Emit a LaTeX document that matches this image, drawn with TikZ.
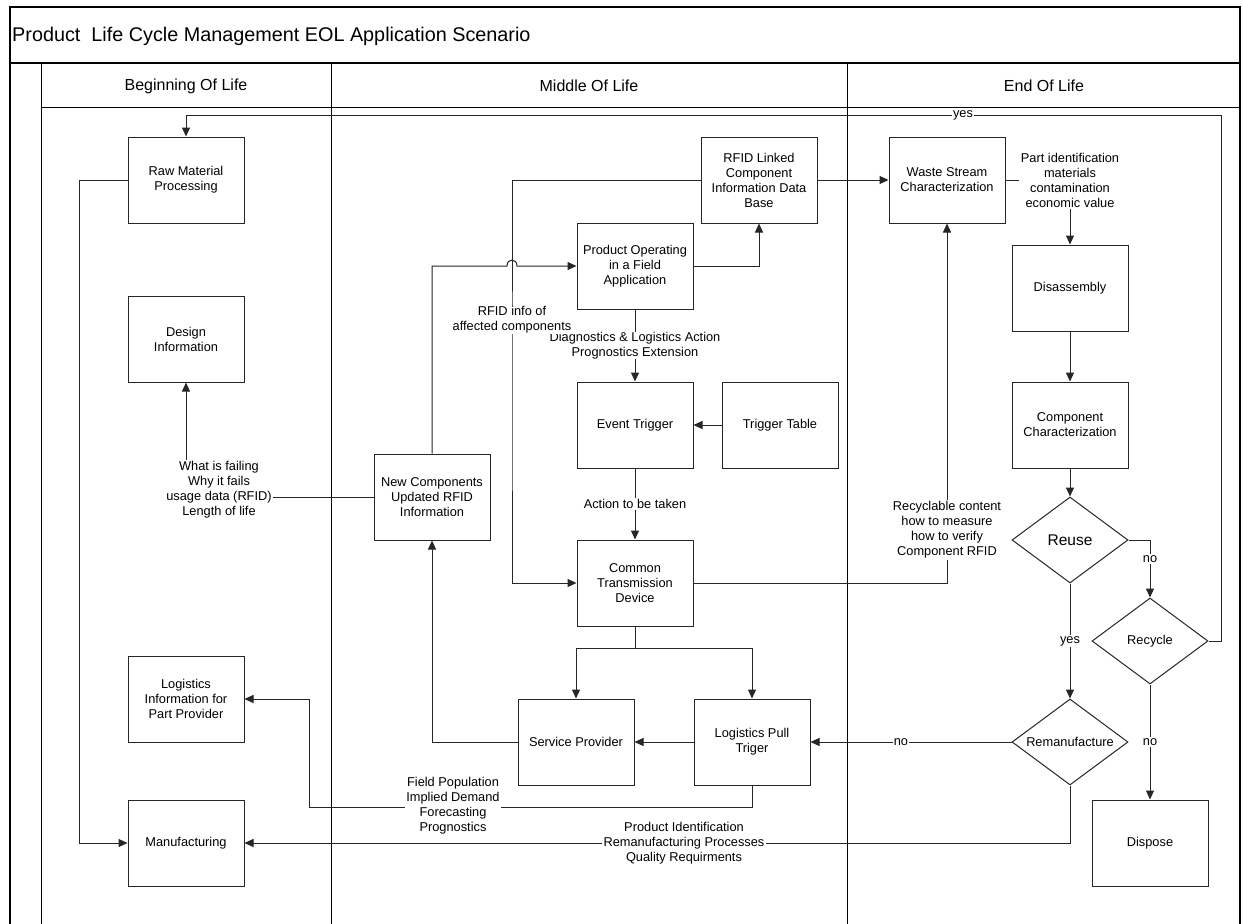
\documentclass[tikz,border=0pt]{standalone}
\usepackage{fontspec}
\setmainfont{Liberation Sans}
\usetikzlibrary{arrows.meta,shapes.geometric}
\newcommand{\boxfont}{\fontsize{12.8}{15}\selectfont}
\newcommand{\headfont}{\fontsize{16}{19}\selectfont}
\newcommand{\titlefont}{\fontsize{19.8}{23}\selectfont}
\begin{document}
\begin{tikzpicture}[x=1pt,y=-1pt,
  box/.style={draw=black!85, line width=1pt, minimum width=116pt, minimum height=86pt, align=center, inner sep=1pt, font=\boxfont},
  dia/.style={draw=black!85, diamond, line width=1pt, minimum width=116pt, minimum height=86pt, inner sep=0pt, aspect=1.35, font=\boxfont},
  lbl/.style={fill=white, align=center, inner sep=1.5pt, font=\boxfont},
  conn/.style={line width=1pt, draw=black!85},
  arr/.style={conn, -{Triangle[length=9pt,width=8pt]}},
  frame/.style={line width=1.6pt, draw=black},
  lane/.style={line width=1pt, draw=black}]
\useasboundingbox (0,0) rectangle (1243,924);
\fill[white] (0,0) rectangle (1243,924);
% frame and lanes
\draw[frame] (10,924) -- (10,7) -- (1240,7) -- (1240,924);
\draw[frame] (10,63) -- (1240,63);
\draw[lane] (41,63) -- (41,924);
\draw[lane] (41,107) -- (1240,107);
\draw[lane] (331,63) -- (331,924);
\draw[lane] (847,63) -- (847,924);
\node[anchor=west, font=\titlefont, inner sep=0pt] (title) at (12,36) {Product\ \ Life Cycle Management EOL Application Scenario};
\node[font=\headfont] (h1) at (186,86) {Beginning Of Life};
\node[font=\headfont] (h2) at (589,86) {Middle Of Life};
\node[font=\headfont] (h3) at (1044,86) {End Of Life};
% nodes
\node[box] (raw) at (186,180) {Raw Material\\Processing};
\node[box] (design) at (186,339) {Design\\Information};
\node[box] (logi) at (186,699) {Logistics\\Information for\\Part Provider};
\node[box] (manu) at (186,843) {Manufacturing};
\node[box] (newc) at (432,497) {New Components\\Updated RFID\\Information};
\node[box] (db) at (759,180) {RFID Linked\\Component\\Information Data\\Base};
\node[box] (po) at (635,266) {Product Operating\\in a Field\\Application};
\node[box] (et) at (635,425) {Event Trigger};
\node[box] (tt) at (780,425) {Trigger Table};
\node[box] (ctd) at (635,583) {Common\\Transmission\\Device};
\node[box] (sp) at (576,742) {Service Provider};
\node[box] (lp) at (752,742) {Logistics Pull\\Triger};
\node[box] (ws) at (947,180) {Waste Stream\\Characterization};
\node[box] (dis) at (1070,288) {Disassembly};
\node[box] (cc) at (1070,425) {Component\\Characterization};
\node[dia, font=\fontsize{15.5}{18}\selectfont] (reuse) at (1070,540) {Reuse};
\node[dia] (recycle) at (1150,641) {Recycle};
\node[dia] (reman) at (1070,742) {Remanufacture};
\node[box] (dispose) at (1150,843) {Dispose};
\coordinate (br) at (635,648);
% connectors
\draw[arr] (raw.west) -- (79,180) |- (manu.west);
\draw[arr] (recycle.east) -| (1221,115) -| (raw.north);
\node[lbl, inner sep=1pt] (lyes1) at (963,115) {yes};
\draw[arr] (newc.west) -| (design.south);
\node[lbl] (lfail) at (219,490) {What is failing\\Why it fails\\usage data (RFID)\\Length of life};
\draw[arr] (po.east) -| (db.south);
\draw[arr] (db.west) -| (512,400) |- (ctd.west);
\draw[arr] (newc.north) |- (507,266) .. controls (507,258) and (517,258) .. (517,266) -- (po.west);
\draw[arr] (po.south) -- (et.north) node[lbl, midway, inner sep=0.5pt] (ldiag) {Diagnostics \& Logistics Action\\Prognostics Extension};
\node[lbl, inner sep=0.5pt] (lrfid) at (512,320) {RFID info of\\affected components};
\draw[arr] (db.east) -- (ws.west);
\draw[arr] (tt.west) -- (et.east);
\draw[arr] (et.south) -- (ctd.north) node[lbl, midway] (lact) {Action to be taken};
\draw[arr] (ctd.east) -| (ws.south);
\node[lbl] (lrec) at (947,530) {Recyclable content\\how to measure\\how to verify\\Component RFID};
\draw[conn] (ctd.south) -- (br);
\draw[arr] (br) -| (sp.north);
\draw[arr] (br) -| (lp.north);
\draw[arr] (lp.west) -- (sp.east);
\draw[arr] (sp.west) -| (newc.south);
\draw[arr] (lp.south) |- (309,807) |- (logi.east);
\node[lbl] (lfield) at (453,806) {Field Population\\Implied Demand\\Forecasting\\Prognostics};
\draw[arr] (reman.south) |- (manu.east);
\node[lbl] (lprod) at (684,843) {Product Identification\\Remanufacturing Processes\\Quality Requirments};
\draw[arr] (reman.west) -- (lp.east) node[lbl, pos=0.55, inner sep=1pt] (lno1) {no};
\draw[arr] (ws.east) -| (dis.north);
\node[lbl] (lpart) at (1070,180) {Part identification\\materials\\contamination\\economic value};
\draw[arr] (dis.south) -- (cc.north);
\draw[arr] (cc.south) -- (reuse.north);
\draw[arr] (reuse.east) -| (recycle.north);
\node[lbl] (lno2) at (1150,559) {no};
\draw[arr] (reuse.south) -- (reman.north) node[lbl, midway] (lyes2) {yes};
\draw[arr] (recycle.south) -- (dispose.north) node[lbl, midway] (lno3) {no};
\end{tikzpicture}
\end{document}
